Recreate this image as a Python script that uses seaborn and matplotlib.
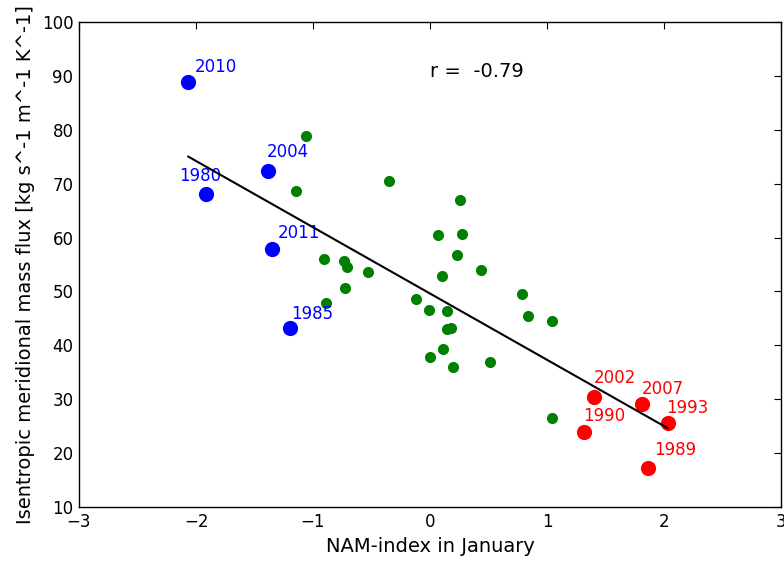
import numpy as np
import pandas as pd
import matplotlib
matplotlib.use("Agg")
import matplotlib.pyplot as plt
import seaborn as sns

# ---- data ----
green_x = [-1.058, -1.146, -0.352, 0.256, 0.068, 0.273, 0.230, 0.438, 0.100,
           -0.907, -0.731, -0.706, -0.526, -0.725, -0.893, -0.122, -0.009,
           0.145, 0.142, 0.182, 0.108, 0.000, 0.196, 0.515, 0.783, 0.834,
           1.047, 1.041]
green_y = [78.9, 68.6, 70.5, 67.0, 60.4, 60.6, 56.8, 53.9, 52.9,
           56.1, 55.6, 54.6, 53.7, 50.7, 47.9, 48.6, 46.6,
           46.4, 43.0, 43.2, 39.4, 37.9, 35.9, 37.0, 49.5, 45.4,
           44.5, 26.5]

blue_years = ["2010", "1980", "2004", "2011", "1985"]
blue_x = [-2.068, -1.914, -1.388, -1.354, -1.197]
blue_y = [88.9, 68.1, 72.4, 57.9, 43.3]

red_years = ["2002", "2007", "1993", "1990", "1989"]
red_x = [1.402, 1.815, 2.031, 1.317, 1.866]
red_y = [30.5, 29.1, 25.6, 23.9, 17.3]

r_text = "r =  -0.79"
xlabel = "NAM-index in January"
ylabel = "Isentropic meridional mass flux [kg s^-1 m^-1 K^-1]"

# label offsets in pixels (dx, dy)
blue_off = [(7, 10), (-27, 12.7), (-1, 13.4), (6, 10.7), (1.3, 8.6)]
red_off = [(0, 13.4), (-1, 9.7), (-1.7, 9.7), (-0.6, 10.7), (5.6, 12.4)]

sns.set_style("white")
plt.rcParams['font.family'] = ['DejaVu Sans']

fig = plt.figure(figsize=(7.84, 5.63), dpi=100)
W, H = 784, 563
ax = fig.add_axes([79 / W, (H - 507) / H, (781 - 79) / W, (507 - 22) / H])

df_g = pd.DataFrame({"x": green_x, "y": green_y})
df_b = pd.DataFrame({"x": blue_x, "y": blue_y})
df_r = pd.DataFrame({"x": red_x, "y": red_y})

sns.scatterplot(data=df_g, x="x", y="y", color="green", s=64, linewidth=0, ax=ax, zorder=3)
sns.scatterplot(data=df_b, x="x", y="y", color="blue", s=120, linewidth=0, ax=ax, zorder=3)
sns.scatterplot(data=df_r, x="x", y="y", color="red", s=120, linewidth=0, ax=ax, zorder=3)

# regression line over all points
all_x = np.array(green_x + blue_x + red_x)
all_y = np.array(green_y + blue_y + red_y)
m, b = np.polyfit(all_x, all_y, 1)
lx = np.array([all_x.min(), all_x.max()])
ax.plot(lx, m * lx + b, color="black", lw=1.5, zorder=4)

for yr, x, y, (dx, dy) in zip(blue_years, blue_x, blue_y, blue_off):
    ax.annotate(yr, (x, y), xytext=(dx, dy), textcoords="offset pixels",
                ha="left", va="baseline", color="blue", fontsize=12)
for yr, x, y, (dx, dy) in zip(red_years, red_x, red_y, red_off):
    ax.annotate(yr, (x, y), xytext=(dx, dy), textcoords="offset pixels",
                ha="left", va="baseline", color="red", fontsize=12)

ax.text(0.0, 89.8, r_text, ha="left", va="baseline", fontsize=14, color="black")

ax.set_xlim(-3, 3)
ax.set_ylim(10, 100)
ax.set_xticks([-3, -2, -1, 0, 1, 2, 3])
ax.set_yticks(np.arange(10, 101, 10))
ax.set_xlabel(xlabel, fontsize=14, labelpad=5, color="black")
ax.set_ylabel(ylabel, fontsize=14, labelpad=5, color="black")
ax.tick_params(direction="in", top=True, right=True, length=5, width=0.8,
               labelsize=12, color="black", labelcolor="black", pad=4)
for s in ax.spines.values():
    s.set_color("black")
    s.set_linewidth(1.0)

fig.savefig("out.png", dpi=100)
